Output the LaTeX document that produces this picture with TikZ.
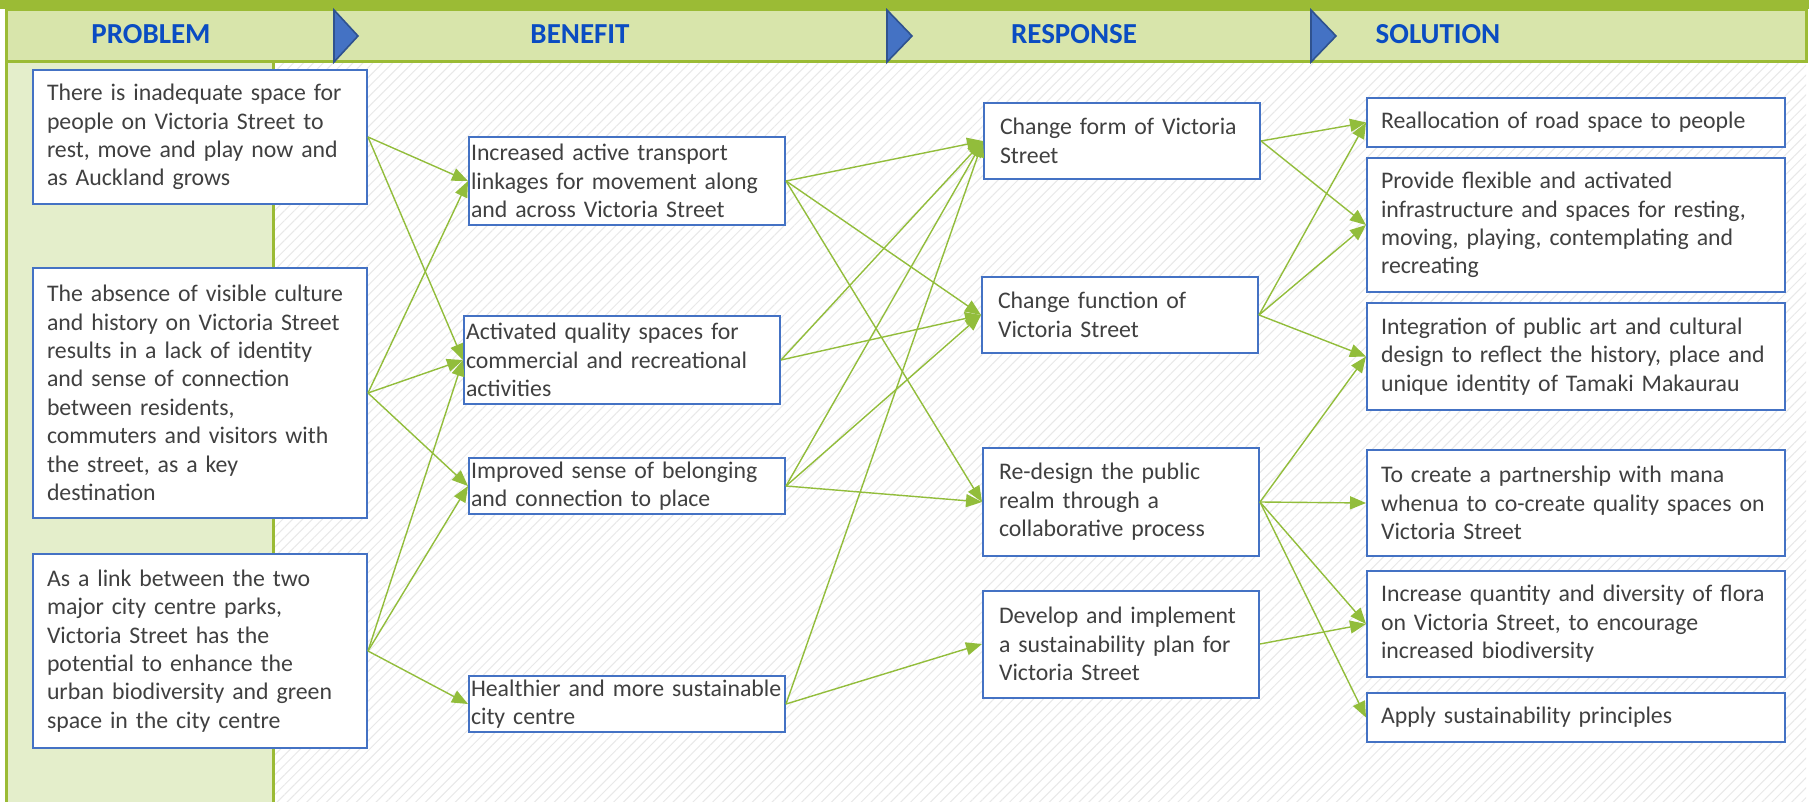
\documentclass[tikz,border=0pt]{standalone}
\usepackage{fontspec}
\setmainfont{Carlito}
\usetikzlibrary{arrows.meta,patterns.meta}
\definecolor{headgreen}{HTML}{9BBB35}
\definecolor{headfill}{HTML}{D8E5AB}
\definecolor{colfill}{HTML}{E4EECB}
\definecolor{boxblue}{HTML}{4472C4}
\definecolor{triblue}{HTML}{4472C4}
\definecolor{tridark}{HTML}{2F528F}
\definecolor{labelblue}{HTML}{0A4CC2}
\definecolor{textgrey}{HTML}{404040}
\definecolor{linkgreen}{HTML}{92BD3B}
\definecolor{hatchgrey}{HTML}{E8E8E8}
\begin{document}
\begin{tikzpicture}[x=0.5pt,y=-0.5pt,
  box/.style={draw=boxblue, line width=1pt, fill=white, text=textgrey, align=left, inner ysep=1pt, font=\fontsize{11.9}{14.2}\selectfont},
  probbox/.style={box, inner xsep=7pt, text width=153pt},
  benbox/.style={box, inner xsep=1pt, text width=156pt},
  resbox/.style={box, inner xsep=8pt, text width=122pt},
  solbox/.style={box, inner xsep=7pt, text width=195pt},
  head/.style={text=labelblue, font=\fontsize{14.5}{16}\selectfont\bfseries},
  marker/.style={fill=triblue, draw=tridark, line width=0.8pt},
  link/.style={draw=linkgreen, line width=0.7pt, -{Triangle[length=8pt,width=6.5pt]}}]
\useasboundingbox (0,0) rectangle (1809,802);
% background
\fill[white] (0,0) rectangle (1809,802);
\fill[pattern={Lines[angle=45,distance=3.5pt,line width=0.5pt]}, pattern color=hatchgrey] (273,62) rectangle (1806,802);
\fill[colfill] (6,62) rectangle (273,802);
\draw[headgreen, line width=1.5pt] (6,62) -- (6,802) (273,62) -- (273,802);
% header
\fill[headgreen] (0,0) rectangle (1809,9);
\filldraw[fill=headfill, draw=headgreen, line width=1.5pt] (6,10) rectangle (1806,62);
\filldraw[marker] (334,10) -- (358,36) -- (334,62) -- cycle;
\filldraw[marker] (887,10) -- (912,36) -- (887,62) -- cycle;
\filldraw[marker] (1311,10) -- (1336,36) -- (1311,62) -- cycle;
\node[head] (hprob) at (151,34) {PROBLEM};
\node[head] (hben) at (580,34) {BENEFIT};
\node[head] (hres) at (1074,34) {RESPONSE};
\node[head] (hsol) at (1438,34) {SOLUTION};
% problem
\node[probbox, minimum height=67pt] (p1) at (200,137) {There is inadequate space for\\people on Victoria Street to\\rest, move and play now and\\as Auckland grows};
\node[probbox, minimum height=125pt] (p2) at (200,393) {The absence of visible culture\\and history on Victoria Street\\results in a lack of identity\\and sense of connection\\between residents,\\commuters and visitors with\\the street, as a key\\destination};
\node[probbox, minimum height=97pt] (p3) at (200,651) {As a link between the two\\major city centre parks,\\Victoria Street has the\\potential to enhance the\\urban biodiversity and green\\space in the city centre};
% benefit
\node[benbox, minimum height=44pt] (b1) at (627,181) {Increased active transport\\linkages for movement along\\and across Victoria Street};
\node[benbox, minimum height=44pt] (b2) at (622,360) {Activated quality spaces for\\commercial and recreational\\activities};
\node[benbox, minimum height=28pt] (b3) at (627,486) {Improved sense of belonging\\and connection to place};
\node[benbox, minimum height=28pt] (b4) at (627,704) {Healthier and more sustainable\\city centre};
% response
\node[resbox, minimum height=38pt] (r1) at (1122,141) {Change form of Victoria\\Street};
\node[resbox, minimum height=38pt] (r2) at (1120,315) {Change function of\\Victoria Street};
\node[resbox, minimum height=54pt] (r3) at (1121,502) {Re-design the public\\realm through a\\collaborative process};
\node[resbox, minimum height=53.5pt] (r4) at (1121,644) {Develop and implement\\a sustainability plan for\\Victoria Street};
% solution
\node[solbox, minimum height=24.5pt] (s1) at (1576,122.5) {Reallocation of road space to people};
\node[solbox, minimum height=67pt] (s2) at (1576,225) {Provide flexible and activated\\infrastructure and spaces for resting,\\moving, playing, contemplating and\\recreating};
\node[solbox, minimum height=53.5pt] (s3) at (1576,356.5) {Integration of public art and cultural\\design to reflect the history, place and\\unique identity of Tamaki Makaurau};
\node[solbox, minimum height=53pt] (s4) at (1576,503) {To create a partnership with mana\\whenua to co-create quality spaces on\\Victoria Street};
\node[solbox, minimum height=53pt] (s5) at (1576,624) {Increase quantity and diversity of flora\\on Victoria Street, to encourage\\increased biodiversity};
\node[solbox, minimum height=24.5pt] (s6) at (1576,717.5) {Apply sustainability principles};
% problem to benefit
\draw[link] (p1.east) -- (b1.west);
\draw[link] (p1.east) -- (b2.west);
\draw[link] (p2.east) -- (b1.west);
\draw[link] (p2.east) -- (b2.west);
\draw[link] (p2.east) -- (b3.west);
\draw[link] (p3.east) -- (b2.west);
\draw[link] (p3.east) -- (b3.west);
\draw[link] (p3.east) -- (b4.west);
% benefit to response
\draw[link] (b1.east) -- (r1.west);
\draw[link] (b1.east) -- (r2.west);
\draw[link] (b1.east) -- (r3.west);
\draw[link] (b2.east) -- (r1.west);
\draw[link] (b2.east) -- (r2.west);
\draw[link] (b3.east) -- (r1.west);
\draw[link] (b3.east) -- (r2.west);
\draw[link] (b3.east) -- (r3.west);
\draw[link] (b4.east) -- (r1.west);
\draw[link] (b4.east) -- (r4.west);
% response to solution
\draw[link] (r1.east) -- (s1.west);
\draw[link] (r1.east) -- (s2.west);
\draw[link] (r2.east) -- (s1.west);
\draw[link] (r2.east) -- (s2.west);
\draw[link] (r2.east) -- (s3.west);
\draw[link] (r3.east) -- (s3.west);
\draw[link] (r3.east) -- (s4.west);
\draw[link] (r3.east) -- (s5.west);
\draw[link] (r3.east) -- (s6.west);
\draw[link] (r4.east) -- (s5.west);
\end{tikzpicture}
\end{document}
